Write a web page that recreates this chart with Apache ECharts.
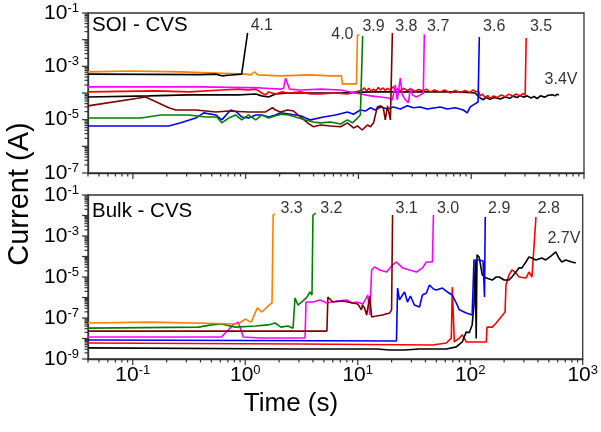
<!DOCTYPE html>
<html>
<head>
<meta charset="utf-8">
<script src="https://cdn.jsdelivr.net/npm/echarts@6/dist/echarts.min.js"></script>
<style>
  html, body { margin: 0; padding: 0; background: #fff; }
  #chart { width: 601px; height: 432px; }
</style>
</head>
<body>
<div id="chart"></div>
<script>
// Constant-voltage-stress (CVS) breakdown: gate current vs. stress time.
// Each trace is [time (s), current (A)].

// ---- SOI devices ----
const soi41 = [[0.04,5.1e-4],[0.144,5.0e-4],[0.40,4.9e-4],[0.543,5.1e-4],[0.614,4.4e-4],[0.737,4.7e-4],[0.922,5.1e-4],[1.04,1.8e-2]];
const soi40 = [[0.04,6.2e-4],[0.096,6.7e-4],[0.266,6.2e-4],[0.543,5.6e-4],[1.0,5.1e-4],[1.11,4.8e-4],[1.20,6.2e-4],[1.28,4.8e-4],[2.04,4.4e-4],[3.76,4.8e-4],[5.65,4.4e-4],[7.07,4.4e-4],[7.2,2.2e-4],[9.6,2.2e-4],[9.8,1.5e-2],[10.2,1.5e-2]];
const soi39 = [[0.04,1.15e-5],[0.118,1.15e-5],[0.177,1.5e-5],[0.313,1.5e-5],[0.443,1.26e-5],[0.554,1.26e-5],[0.614,7.6e-6],[0.708,1.15e-5],[0.816,1.5e-5],[0.922,9.8e-6],[1.06,1.5e-5],[1.23,9.8e-6],[1.39,1.5e-5],[1.60,1.15e-5],[1.84,1.4e-5],[2.08,1.6e-5],[2.40,1.5e-5],[2.77,1.26e-5],[3.40,9.8e-6],[4.00,8.2e-6],[4.61,7.6e-6],[5.65,8.2e-6],[6.93,6.9e-6],[8.0,9.8e-6],[8.85,7.6e-6],[9.8,1.15e-5],[10.4,1.5e-5],[10.8,1.6e-5],[10.9,1.4e-2]];
const soi38 = [[0.04,3.3e-5],[0.130,7.1e-5],[0.208,2.8e-5],[0.240,2.3e-5],[0.361,2.3e-5],[0.543,1.95e-5],[0.708,2.1e-5],[1.06,1.95e-5],[1.50,1.95e-5],[1.73,2.8e-5],[1.84,2.3e-5],[2.04,1.95e-5],[2.35,2.3e-5],[2.66,2.1e-5],[3.07,1.26e-5],[3.54,7.6e-6],[4.00,5.4e-6],[4.61,6.3e-6],[5.65,5.8e-6],[6.93,5.4e-6],[8.0,7.6e-6],[9.03,4.9e-6],[9.8,5.8e-6],[10.8,4.1e-6],[12.0,6.3e-6],[12.8,5.4e-6],[13.6,7.6e-6],[14.7,3.0e-5],[15.7,3.3e-5],[16.6,2.8e-5],[17.3,9.8e-6],[18.1,3.3e-5],[19.2,9.8e-6],[20.0,1.78e-2]];
const soi37 = [[0.04,1.7e-4],[0.40,1.7e-4],[1.36,1.55e-4],[2.04,1.4e-4],[2.17,1.5e-4],[2.26,3.6e-4],[2.35,3.6e-4],[2.45,1.4e-4],[3.07,1.3e-4],[4.61,1.4e-4],[6.93,1.3e-4],[9.4,1.0e-4],[12.8,7.8e-5],[15.7,7.1e-5],[18.4,6.5e-5],[20.0,5.5e-5],[21.2,2.0e-4],[22.1,5.5e-5],[23.5,3.6e-4],[24.5,8.5e-5],[26.1,5.5e-5],[27.7,4.3e-5],[28.9,1.55e-4],[30.1,8.5e-5],[32.6,7.1e-5],[35.4,8.5e-5],[37.6,1.0e-4],[38.4,1.6e-2]];
const soi36 = [[0.04,5.8e-6],[0.208,5.8e-6],[0.266,7.6e-6],[0.361,1.15e-5],[0.425,1.8e-5],[0.543,1.5e-5],[0.614,9.8e-6],[0.737,2.3e-5],[0.832,1.95e-5],[0.922,1.26e-5],[1.06,1.15e-5],[1.23,1.5e-5],[1.39,1.5e-5],[1.60,1.26e-5],[1.84,1.5e-5],[2.04,1.8e-5],[2.50,1.6e-5],[3.07,1.4e-5],[3.40,1.15e-5],[3.76,9.8e-6],[4.90,1.26e-5],[6.26,1.5e-5],[8.0,1.95e-5],[9.03,1.6e-5],[10.4,2.3e-5],[11.5,2.1e-5],[12.8,2.8e-5],[14.1,2.3e-5],[15.7,3.0e-5],[18.1,2.5e-5],[20.4,3.0e-5],[23.5,2.5e-5],[27.1,3.3e-5],[30.7,2.8e-5],[35.4,3.0e-5],[40.8,2.5e-5],[48.0,2.8e-5],[53.2,3.0e-5],[61.3,2.5e-5],[72.2,2.8e-5],[85.0,2.3e-5],[92.2,1.8e-5],[98.0,3.0e-5],[108,3.9e-5],[115,4.6e-5],[118,1.26e-2]];
const soi35 = [[0.04,1.1e-4],[0.160,1.2e-4],[0.313,1.1e-4],[0.614,1.3e-4],[0.867,1.4e-4],[1.06,1.3e-4],[1.23,1.4e-4],[1.39,1.0e-4],[1.50,8.5e-5],[1.60,1.1e-4],[1.84,9.2e-5],[2.08,1.1e-4],[2.40,1.0e-4],[3.07,1.1e-4],[3.76,9.2e-5],[4.61,9.2e-5],[6.26,1.0e-4],[8.0,9.2e-5],[9.4,1.1e-4],[10.8,1.3e-4],[11.3,1.55e-4],[11.8,1.2e-4],[12.4,1.5e-4],[13.0,1.15e-4],[13.6,1.4e-4],[14.3,1.2e-4],[15.0,1.6e-4],[15.7,1.3e-4],[16.5,1.55e-4],[17.3,1.25e-4],[18.1,1.5e-4],[19.0,1.3e-4],[20.4,1.7e-4],[21.5,1.3e-4],[22.5,1.45e-4],[23.5,1.2e-4],[25.0,1.5e-4],[27.1,1.25e-4],[29.0,1.45e-4],[31.9,1.15e-4],[34.0,1.35e-4],[37.6,1.2e-4],[40.0,1.4e-4],[43.4,1.1e-4],[47.0,1.3e-4],[53.2,1.1e-4],[58.0,1.3e-4],[65.2,1.0e-4],[72.0,1.25e-4],[80.0,1.05e-4],[88.0,1.25e-4],[98.0,1.05e-4],[104,1.3e-4],[110,1.1e-4],[116,1.2e-4],[120,7.8e-5],[126,9.0e-5],[133,6.8e-5],[140,8.0e-5],[147,6.3e-5],[158,7.8e-5],[170,6.8e-5],[185,8.5e-5],[200,7.2e-5],[215,9.0e-5],[235,7.8e-5],[250,9.2e-5],[272,7.8e-5],[288,9.5e-5],[301,8.5e-5],[307,1.15e-2]];
const soi34 = [[0.04,7.1e-5],[0.139,7.8e-5],[0.313,8.5e-5],[0.867,8.5e-5],[1.23,9.2e-5],[1.39,7.8e-5],[1.60,7.1e-5],[1.84,9.2e-5],[2.40,1.0e-4],[3.76,1.0e-4],[6.93,1.0e-4],[12.8,1.1e-4],[23.5,1.1e-4],[43.4,1.1e-4],[80.0,1.1e-4],[108,1.0e-4],[120,6.5e-5],[128,5.6e-5],[135,6.8e-5],[147,5.8e-5],[160,6.8e-5],[181,6.0e-5],[200,7.1e-5],[220,6.3e-5],[235,7.6e-5],[255,6.8e-5],[272,8.0e-5],[290,7.0e-5],[313,7.8e-5],[340,6.5e-5],[360,7.4e-5],[384,6.2e-5],[410,7.8e-5],[452,7.0e-5],[480,8.2e-5],[500,7.1e-5],[530,8.5e-5],[554,7.8e-5],[580,9.0e-5],[600,8.5e-5]];

// ---- Bulk devices ----
const bulk33 = [[0.04,5.7e-8],[0.144,6.3e-8],[0.867,5.1e-8],[1.0,8.9e-8],[1.13,6.3e-8],[1.28,3.1e-7],[1.41,1.95e-7],[1.60,3.9e-7],[1.73,5.4e-7],[1.77,1.05e-2],[1.84,1.2e-2]];
const bulk32 = [[0.04,3.2e-8],[0.384,3.6e-8],[0.50,4.6e-8],[0.614,5.1e-8],[0.816,3.6e-8],[1.23,4.1e-8],[1.60,4.6e-8],[1.84,5.7e-8],[2.08,3.6e-8],[2.40,4.1e-8],[2.66,3.2e-8],[2.77,9.5e-7],[2.94,4.3e-7],[3.26,6.8e-7],[3.54,1.05e-6],[3.76,1.86e-6],[3.92,1.32e-6],[4.0,1.05e-2],[4.25,1.3e-2]];
const bulk31 = [[0.04,2.3e-8],[5.32,2.3e-8],[5.43,1.05e-6],[6.01,6.0e-7],[7.37,6.8e-7],[9.03,5.4e-7],[10.0,4.8e-7],[10.8,2.5e-7],[11.0,4.3e-7],[11.5,3.1e-7],[12.0,1.4e-7],[12.8,1.18e-6],[13.3,1.12e-7],[14.7,1.26e-7],[16.6,1.4e-7],[19.2,1.74e-7],[20.0,2.5e-7],[20.4,1.05e-2]];
const bulk30 = [[0.04,1.18e-8],[0.614,1.18e-8],[0.78,4.6e-8],[0.867,6.3e-8],[0.96,1.18e-8],[1.36,1.05e-8],[3.40,1.05e-8],[3.47,6.0e-7],[4.0,6.0e-7],[4.61,7.6e-7],[5.32,5.4e-7],[6.52,6.8e-7],[8.0,7.6e-7],[8.85,5.4e-7],[9.8,6.0e-7],[11.1,4.8e-7],[12.3,1.32e-6],[12.8,1.4e-7],[13.3,2.2e-5],[14.1,3.1e-5],[15.7,2.2e-5],[18.1,1.75e-5],[20.4,3.9e-5],[22.1,5.4e-5],[25.0,2.8e-5],[28.9,2.2e-5],[33.3,1.75e-5],[37.6,2.8e-5],[40.8,5.4e-5],[46.1,5.4e-5],[47.1,1.05e-2]];
const bulk29 = [[0.04,8.5e-9],[22.1,7.6e-9],[22.6,2.9e-6],[23.5,7.6e-7],[25.0,1.32e-6],[26.1,1.86e-6],[27.7,6.0e-7],[29.4,1.18e-6],[31.9,4.3e-7],[35.4,3.4e-7],[37.6,1.32e-6],[40.8,1.66e-6],[43.4,4.1e-6],[47.1,2.6e-6],[50.0,2.3e-6],[56.5,2.9e-6],[62.6,1.86e-6],[69.3,1.32e-6],[75.2,5.4e-7],[80.0,2.5e-7],[92.2,1.74e-7],[104,1.4e-7],[108,6.8e-5],[120,6.8e-5],[130,6.0e-5],[134,1.05e-6],[136,8.5e-3]];
const bulk28 = [[0.04,6.0e-9],[3.07,5.4e-9],[46.1,4.8e-9],[61.3,6.0e-9],[67.9,1.05e-8],[69.3,3.2e-6],[72.2,6.8e-9],[80.0,1.05e-8],[85.0,1.5e-8],[92.2,6.8e-9],[104,6.8e-9],[139,6.8e-9],[141,3.6e-8],[157,3.6e-8],[170,5.7e-8],[188,1.12e-7],[204,1.95e-7],[208,4.1e-6],[221,1.26e-5],[235,2.2e-5],[255,1.58e-5],[272,1.0e-5],[313,8.9e-6],[333,1.75e-5],[354,1.0e-5],[368,1.0e-5],[384,8.5e-3]];
const bulk27 = [[0.04,3.5e-9],[3.07,3.1e-9],[15.0,3.1e-9],[19.2,2.75e-9],[26.1,2.75e-9],[35.4,3.1e-9],[61.3,3.1e-9],[75.2,3.9e-9],[85.0,6.8e-9],[88.5,1.18e-8],[92.2,2.1e-8],[98,1.9e-8],[104,4.6e-8],[108,4.3e-7],[111,6.0e-5],[113,1.0e-8],[115,1.2e-4],[120,9.5e-5],[128,1.26e-5],[139,8.9e-6],[157,7.1e-6],[170,1.0e-5],[181,1.0e-5],[200,7.1e-6],[221,7.1e-6],[235,1.0e-5],[272,2.8e-5],[288,2.8e-5],[313,5.4e-5],[333,9.5e-5],[354,8.5e-5],[384,6.8e-5],[433,8.5e-5],[470,6.8e-5],[521,1.05e-4],[577,1.66e-4],[613,8.5e-5],[652,5.4e-5],[707,6.8e-5],[800,5.4e-5],[867,4.8e-5]];

// Stress-voltage annotations: text and anchor [time, current]
const soiLabelText = ['4.1', '4.0', '3.9', '3.8', '3.7', '3.6', '3.5', '3.4V'];
const soiLabelAt = [[1.39,3.4e-2],[7.2,1.6e-2],[13.6,3.2e-2],[26.6,3.2e-2],[51,3.2e-2],[160,3.2e-2],[416,3.2e-2],[626,3.1e-4]];
const bulkLabelText = ['3.3', '3.2', '3.1', '3.0', '2.9', '2.8', '2.7V'];
const bulkLabelAt = [[2.58,2.1e-2],[5.83,2.1e-2],[27.2,2.1e-2],[63.5,2.1e-2],[181,2.1e-2],[500,2.1e-2],[680,7.9e-4]];

// Axis ranges
const xRange = [0.04, 1000];
const yRanges = [[1e-7, 1e-1], [1e-9, 1e-1]];

const C = {
  black: '#000000', orange: '#FF8000', green: '#008000', maroon: '#800000',
  magenta: '#FF00FF', blue: '#0000FF', red: '#FF0000'
};
const FONT = 'Liberation Sans, Arial, sans-serif';
const AXIS_COLOR = '#333333';

const soiTraces = [
  [soi34, C.black], [soi35, C.red], [soi36, C.blue], [soi37, C.magenta],
  [soi38, C.maroon], [soi39, C.green], [soi40, C.orange], [soi41, C.black]
];
const bulkTraces = [
  [bulk28, C.red], [bulk27, C.black], [bulk29, C.blue], [bulk30, C.magenta],
  [bulk31, C.maroon], [bulk32, C.green], [bulk33, C.orange]
];

// Decade + sub-decade tick positions for a log axis
function logTicks(lo, hi) {
  const out = [];
  for (let e = Math.floor(Math.log10(lo)); e <= Math.ceil(Math.log10(hi)); e++) {
    for (let m = 1; m <= 9; m++) {
      const v = m * Math.pow(10, e);
      if (v >= lo * 0.999 && v <= hi * 1.001) out.push([v, m === 1 ? 1 : 0]);
    }
  }
  return out;
}

function expOf(v) {
  const lg = Math.log10(v);
  const n = Math.round(lg);
  return Math.abs(lg - n) < 1e-6 ? n : null;
}

function powLabel(oddOnly) {
  return function (v) {
    const n = expOf(v);
    if (n === null) return '';
    if (oddOnly && Math.abs(n) % 2 === 0) return '';
    return '{b|10}{s|' + n + '}';
  };
}

const labelRich = {
  b: { fontSize: 21, fontFamily: FONT, color: '#000' },
  s: { fontSize: 13, fontFamily: FONT, color: '#000', verticalAlign: 'top', padding: [0, 0, 10, 0] }
};

const grids = [
  { left: 88, top: 13, width: 496, height: 160 },
  { left: 88, top: 195, width: 496, height: 164 }
].map(g => Object.assign(g, { show: true, borderColor: AXIS_COLOR, borderWidth: 1.3, backgroundColor: 'transparent' }));

const xAxes = [0, 1].map(i => ({
  type: 'log', logBase: 10, gridIndex: i, min: xRange[0], max: xRange[1],
  axisLine: { show: true, lineStyle: { color: AXIS_COLOR, width: 1.3 } },
  axisTick: { show: false }, splitLine: { show: false }, minorTick: { show: false },
  axisLabel: i === 1 ? { show: true, margin: 5, formatter: powLabel(false), rich: labelRich } : { show: false }
}));

const yAxes = [0, 1].map(i => ({
  type: 'log', logBase: 10, gridIndex: i, min: yRanges[i][0], max: yRanges[i][1],
  axisLine: { show: true, lineStyle: { color: AXIS_COLOR, width: 1.3 } },
  axisTick: { show: false }, splitLine: { show: false }, minorTick: { show: false },
  axisLabel: { show: true, margin: 9, formatter: powLabel(true), rich: labelRich, showMinLabel: true, showMaxLabel: true }
}));

function tickSeries(gi, dir) {
  const ticks = dir === 'x' ? logTicks(xRange[0], xRange[1]) : logTicks(yRanges[gi][0], yRanges[gi][1]);
  const data = ticks.map(t => dir === 'x' ? [t[0], yRanges[gi][0], t[1]] : [xRange[0], t[0], t[1]]);
  return {
    type: 'custom', xAxisIndex: gi, yAxisIndex: gi, clip: false, silent: true, z: 6,
    data: data,
    renderItem: function (params, api) {
      const p = api.coord([api.value(0), api.value(1)]);
      const len = api.value(2) ? 6 : 3.5;
      const shape = dir === 'x'
        ? { x1: p[0], y1: p[1], x2: p[0], y2: p[1] + len }
        : { x1: p[0] - len, y1: p[1], x2: p[0], y2: p[1] };
      return { type: 'line', shape: shape, style: { stroke: AXIS_COLOR, lineWidth: 1.2 } };
    }
  };
}

function traceSeries(gi, traces) {
  return traces.map(([data, color]) => ({
    type: 'line', xAxisIndex: gi, yAxisIndex: gi, data: data,
    showSymbol: false, symbol: 'none', smooth: false, clip: true,
    lineStyle: { color: color, width: 1.6 }, z: 3
  }));
}

function labelSeries(gi, texts, anchors) {
  return {
    type: 'scatter', xAxisIndex: gi, yAxisIndex: gi, symbolSize: 1, silent: true, z: 7,
    itemStyle: { color: 'rgba(0,0,0,0)' },
    data: texts.map((t, k) => ({ name: t, value: anchors[k] })),
    label: { show: true, position: 'inside', formatter: p => p.name, color: '#000', fontSize: 16, fontFamily: FONT }
  };
}

const series = [].concat(
  traceSeries(0, soiTraces),
  traceSeries(1, bulkTraces),
  [tickSeries(0, 'x'), tickSeries(1, 'x'), tickSeries(0, 'y'), tickSeries(1, 'y')],
  [labelSeries(0, soiLabelText, soiLabelAt), labelSeries(1, bulkLabelText, bulkLabelAt)]
);

const chart = echarts.init(document.getElementById('chart'), null, { renderer: 'canvas' });
chart.setOption({
  animation: false,
  backgroundColor: '#fff',
  textStyle: { fontFamily: FONT },
  grid: grids,
  xAxis: xAxes,
  yAxis: yAxes,
  series: series,
  graphic: [
    { type: 'text', left: 92, top: 15, style: { text: 'SOI - CVS', font: '20.5px ' + FONT, fill: '#000' } },
    { type: 'text', left: 92, top: 201, style: { text: 'Bulk - CVS', font: '20.5px ' + FONT, fill: '#000' } },
    { type: 'text', x: 5, y: 194, rotation: Math.PI / 2, style: { text: 'Current (A)', font: '29px ' + FONT, fill: '#000', textAlign: 'center', textVerticalAlign: 'top' } },
    { type: 'text', x: 291, y: 391, style: { text: 'Time (s)', font: '26px ' + FONT, fill: '#000', textAlign: 'center', textVerticalAlign: 'top' } }
  ]
});
</script>
</body>
</html>
